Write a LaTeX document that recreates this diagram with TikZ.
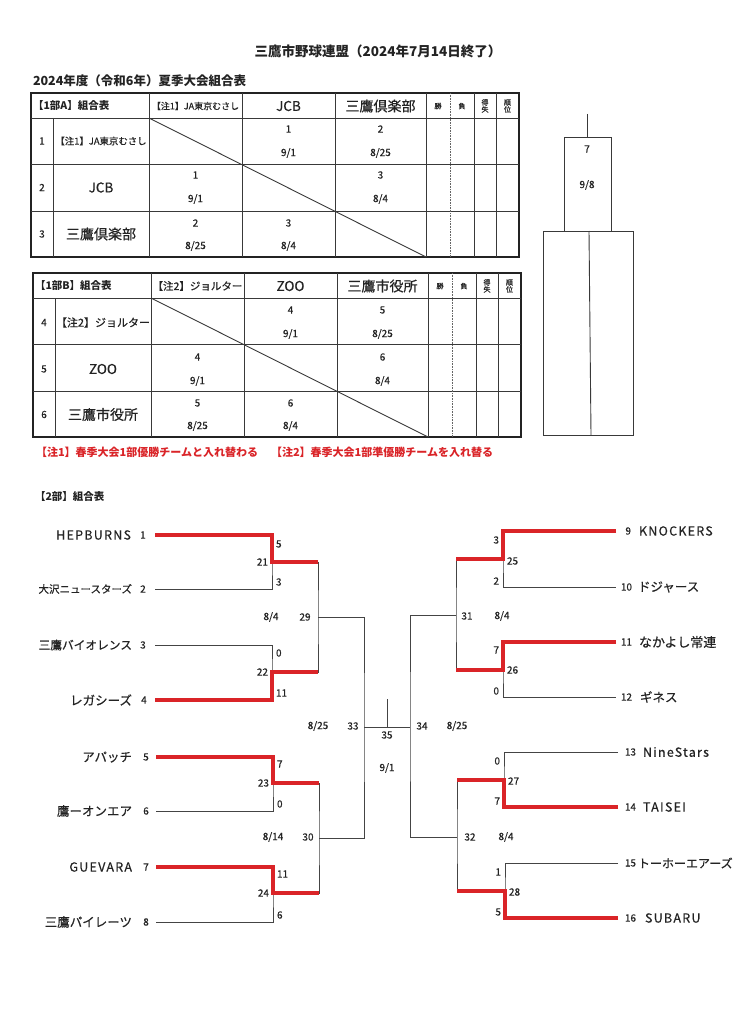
\documentclass[tikz,border=0pt]{standalone}
\usepackage{fontspec}
\setmainfont{Noto Sans CJK JP}[UprightFeatures={FakeBold=0.4}]
\definecolor{winred}{RGB}{218,36,40}
\definecolor{ink}{RGB}{35,35,35}
\begin{document}
\begin{tikzpicture}[x=1pt,y=-1pt,
  every node/.style={inner sep=0pt,outer sep=0pt,text=ink},
  ln/.style={line width=1pt,draw=ink!85},
  win/.style={line width=3.6pt,draw=winred},
  tbo/.style={line width=1.1pt,draw=ink},
  tbi/.style={line width=0.9pt,draw=ink!90},
  dot/.style={line width=0.6pt,draw=ink!70,dash pattern=on 0.8pt off 0.8pt},
  sc/.style={font=\fontsize{10}{12}\selectfont},
  cl/.style={font=\fontsize{10}{12}\selectfont},
  tiny/.style={font=\fontsize{7}{8}\selectfont,align=center},
  lat/.style={font=\fontsize{12.5}{14}\selectfont\addfontfeature{LetterSpace=10}},
  jp/.style={font=\fontsize{12.5}{14}\selectfont},
  note/.style={font=\bfseries\fontsize{11}{13}\selectfont,text=winred,anchor=west}]
\fill[white] (0,0) rectangle (741,1024);
\useasboundingbox (0,0) rectangle (741,1024);

% titles
\node[font=\bfseries\fontsize{13.5}{16}\selectfont] (title) at (378,51) {三鷹市野球連盟（2024年7月14日終了）};
\node[font=\bfseries\fontsize{12.5}{15}\selectfont,anchor=west] (sub) at (33,81) {2024年度（令和6年）夏季大会組合表};

% ---------- table grid ----------
\newcommand\mygrid{%
  \draw[tbo] (31,93) rectangle (519,257);
  \foreach \yy in {118,164,211} \draw[tbi] (31,\yy) -- (519,\yy);
  \draw[tbi] (53,118) -- (53,257);
  \foreach \xx in {149,242,335,426,474,496} \draw[tbi] (\xx,93) -- (\xx,257);
  \draw[dot] (450,93) -- (450,257);
  \draw[tbi] (149,118) -- (426,257);
}
\mygrid
\begin{scope}[shift={(2,180)}]\mygrid\end{scope}

% ---------- table A ----------
\node[font=\bfseries\fontsize{10.5}{12}\selectfont,anchor=west] (ahd) at (33,106) {【1部A】組合表};
\node[font=\fontsize{9}{11}\selectfont] (ah1) at (195.5,106) {【注1】JA東京むさし};
\node[font=\fontsize{13.5}{15}\selectfont] (ah2) at (288.5,106) {JCB};
\node[font=\fontsize{14}{16}\selectfont] (ah3) at (380.5,106) {三鷹倶楽部};
\node[tiny] (ahw) at (438,106) {勝};
\node[tiny] (ahl) at (462,106) {負};
\node[tiny] (ahs) at (485,106) {得\\[-1pt]失};
\node[tiny] (ahr) at (507.5,106) {順\\[-1pt]位};
\node[cl] (an1) at (42,141) {1};
\node[cl] (an2) at (42,187.5) {2};
\node[cl] (an3) at (42,234) {3};
\node[font=\fontsize{9.4}{11}\selectfont] (at1) at (101,141) {【注1】JA東京むさし};
\node[font=\fontsize{13.5}{15}\selectfont] (at2) at (101,187.5) {JCB};
\node[font=\fontsize{14}{16}\selectfont] (at3) at (101,234) {三鷹倶楽部};
\node[cl] (a12g) at (288.5,129) {1};  \node[cl] (a12d) at (288.5,153) {9/1};
\node[cl] (a13g) at (380.5,129) {2};  \node[cl] (a13d) at (380.5,153) {8/25};
\node[cl] (a21g) at (195.5,175) {1};  \node[cl] (a21d) at (195.5,199) {9/1};
\node[cl] (a23g) at (380.5,175) {3};  \node[cl] (a23d) at (380.5,199) {8/4};
\node[cl] (a31g) at (195.5,223) {2};  \node[cl] (a31d) at (195.5,246) {8/25};
\node[cl] (a32g) at (288.5,223) {3};  \node[cl] (a32d) at (288.5,246) {8/4};

% ---------- table B ----------
\node[font=\bfseries\fontsize{10.5}{12}\selectfont,anchor=west] (bhd) at (35,286) {【1部B】組合表};
\node[font=\fontsize{10.5}{12}\selectfont] (bh1) at (197.5,286) {【注2】ジョルター};
\node[font=\fontsize{13.5}{15}\selectfont] (bh2) at (290.5,286) {ZOO};
\node[font=\fontsize{14}{16}\selectfont] (bh3) at (382.5,286) {三鷹市役所};
\node[tiny] (bhw) at (440,286) {勝};
\node[tiny] (bhl) at (464,286) {負};
\node[tiny] (bhs) at (487,286) {得\\[-1pt]失};
\node[tiny] (bhr) at (509.5,286) {順\\[-1pt]位};
\node[cl] (bn4) at (44,322.5) {4};
\node[cl] (bn5) at (44,369) {5};
\node[cl] (bn6) at (44,414.5) {6};
\node[font=\fontsize{11}{13}\selectfont] (bt4) at (103,322.5) {【注2】ジョルター};
\node[font=\fontsize{13.5}{15}\selectfont] (bt5) at (103,369) {ZOO};
\node[font=\fontsize{14}{16}\selectfont] (bt6) at (103,414.5) {三鷹市役所};
\node[cl] (b45g) at (290.5,310) {4};  \node[cl] (b45d) at (290.5,334) {9/1};
\node[cl] (b46g) at (382.5,310) {5};  \node[cl] (b46d) at (382.5,334) {8/25};
\node[cl] (b54g) at (197.5,357) {4};  \node[cl] (b54d) at (197.5,381) {9/1};
\node[cl] (b56g) at (382.5,357) {6};  \node[cl] (b56d) at (382.5,381) {8/4};
\node[cl] (b64g) at (197.5,403) {5};  \node[cl] (b64d) at (197.5,426) {8/25};
\node[cl] (b65g) at (290.5,403) {6};  \node[cl] (b65d) at (290.5,426) {8/4};

\node[note] (n1) at (36,452) {【注1】春季大会1部優勝チームと入れ替わる};
\node[note] (n2) at (271,452) {【注2】春季大会1部準優勝チームを入れ替る};

% ---------- final box right ----------
\draw[tbi] (587,114) -- (587,137);
\draw[tbi] (564,137) rectangle (611,231);
\node[cl] (fg) at (587,149) {7};
\node[cl] (fd) at (587,185) {9/8};
\draw[tbi] (543,231) rectangle (633,435);
\draw[tbi] (589,231) -- (591,435);

% ---------- 2部 ----------
\node[font=\bfseries\fontsize{10.5}{12}\selectfont,anchor=west] (d2) at (35,497) {【2部】組合表};

% left team labels
\node[lat,anchor=east] (L1n) at (131,535) {HEPBURNS};  \node[sc] (L1k) at (143,535) {1};
\node[font=\fontsize{10.5}{12}\selectfont,anchor=east] (L2n) at (132,589) {大沢ニュースターズ}; \node[sc] (L2k) at (143,589) {2};
\node[font=\fontsize{11.7}{13}\selectfont,anchor=east] (L3n) at (132,645) {三鷹バイオレンス}; \node[sc] (L3k) at (143,645) {3};
\node[jp,anchor=east] (L4n) at (132,700) {レガシーズ}; \node[sc] (L4k) at (144,700) {4};
\node[jp,anchor=east] (L5n) at (132,757) {アパッチ}; \node[sc] (L5k) at (146,757) {5};
\node[jp,anchor=east] (L6n) at (132,811) {鷹ーオンエア}; \node[sc] (L6k) at (146,811) {6};
\node[lat,anchor=east] (L7n) at (132,867) {GUEVARA}; \node[sc] (L7k) at (146,867) {7};
\node[jp,anchor=east] (L8n) at (132,922) {三鷹パイレーツ}; \node[sc] (L8k) at (146,922) {8};

% right team labels
\node[sc,anchor=east] (R9k) at (631,531) {9};   \node[lat,anchor=west] (R9n) at (639,531) {KNOCKERS};
\node[sc,anchor=east] (R10k) at (632,587) {10}; \node[jp,anchor=west] (R10n) at (638,587) {ドジャース};
\node[sc,anchor=east] (R11k) at (632,642) {11}; \node[font=\fontsize{13}{15}\selectfont,anchor=west] (R11n) at (639,642) {なかよし常連};
\node[sc,anchor=east] (R12k) at (632,697) {12}; \node[jp,anchor=west] (R12n) at (640,697) {ギネス};
\node[sc,anchor=east] (R13k) at (636,752) {13}; \node[lat,anchor=west] (R13n) at (643,752) {NineStars};
\node[sc,anchor=east] (R14k) at (636,807) {14}; \node[lat,anchor=west] (R14n) at (643,807) {TAISEI};
\node[sc,anchor=east] (R15k) at (636,863) {15}; \node[font=\fontsize{12}{14}\selectfont,anchor=west] (R15n) at (638,863) {トーホーエアーズ};
\node[sc,anchor=east] (R16k) at (636,918) {16}; \node[lat,anchor=west] (R16n) at (645,918) {SUBARU};

% bracket coordinates (left)
\coordinate (a1) at (155,535); \coordinate (a2) at (155,589);
\coordinate (a3) at (155,645); \coordinate (a4) at (155,700);
\coordinate (a5) at (156,757); \coordinate (a6) at (156,811);
\coordinate (a7) at (156,867); \coordinate (a8) at (156,922);
\coordinate (m12) at (272,562); \coordinate (m34) at (272,672);
\coordinate (m56) at (273,783); \coordinate (m78) at (273,893);
\coordinate (s1) at (318,617); \coordinate (s2) at (319,838);
\coordinate (fl) at (364,727);
% right
\coordinate (b9) at (616,531);  \coordinate (b10) at (616,587);
\coordinate (b11) at (616,642); \coordinate (b12) at (616,697);
\coordinate (b13) at (618,752); \coordinate (b14) at (618,807);
\coordinate (b15) at (618,863); \coordinate (b16) at (618,918);
\coordinate (m910) at (503,559); \coordinate (m1112) at (503,670);
\coordinate (m1314) at (504,780); \coordinate (m1516) at (505,891);
\coordinate (s3) at (456,615); \coordinate (s4) at (457,837);
\coordinate (fr) at (410,727);
\coordinate (top) at (387,699); \coordinate (ctr) at (387,727);

% black bracket lines
\draw[ln] (a1) -| (m12) |- (a2);
\draw[ln] (a3) -| (m34) |- (a4);
\draw[ln] (a5) -| (m56) |- (a6);
\draw[ln] (a7) -| (m78) |- (a8);
\draw[ln] (m12) -| (s1) |- (m34);
\draw[ln] (m56) -| (s2) |- (m78);
\draw[ln] (s1) -| (fl) |- (s2);
\draw[ln] (b9) -| (m910) |- (b10);
\draw[ln] (b11) -| (m1112) |- (b12);
\draw[ln] (b13) -| (m1314) |- (b14);
\draw[ln] (b15) -| (m1516) |- (b16);
\draw[ln] (m910) -| (s3) |- (m1112);
\draw[ln] (m1314) -| (s4) |- (m1516);
\draw[ln] (s3) -| (fr) |- (s4);
\draw[ln] (fl) -- (fr);
\draw[ln] (top) -- (ctr);

% winners
\draw[win] (a1) -| (m12) -- (s1 |- m12);
\draw[win] (a4) -| (m34) -- (s1 |- m34);
\draw[win] (a5) -| (m56) -- (s2 |- m56);
\draw[win] (a7) -| (m78) -- (s2 |- m78);
\draw[win] (b9) -| (m910) -- (s3 |- m910);
\draw[win] (b11) -| (m1112) -- (s3 |- m1112);
\draw[win] (b14) -| (m1314) -- (s4 |- m1314);
\draw[win] (b16) -| (m1516) -- (s4 |- m1516);

% left scores
\node[sc,anchor=west] (g1) at (276,544) {5};
\node[sc,anchor=east] (g21) at (268,562) {21};
\node[sc,anchor=west] (g2) at (276,582) {3};
\node[sc] (d29) at (271,617) {8/4};
\node[sc] (g29) at (305,617) {29};
\node[sc,anchor=west] (g3) at (276,653) {0};
\node[sc,anchor=east] (g22) at (268,672) {22};
\node[sc,anchor=west] (g4) at (276,693) {11};
\node[sc,anchor=west] (g5) at (277,764) {7};
\node[sc,anchor=east] (g23) at (269,783) {23};
\node[sc,anchor=west] (g6) at (277,804) {0};
\node[sc] (d30) at (273,837) {8/14};
\node[sc] (g30) at (308,837) {30};
\node[sc,anchor=west] (g7) at (277,874) {11};
\node[sc,anchor=east] (g24) at (269,893) {24};
\node[sc,anchor=west] (g8) at (277,915) {6};
\node[sc] (d33) at (318,726) {8/25};
\node[sc] (g33) at (353,726) {33};
\node[sc] (g35) at (387,735) {35};
\node[sc] (d35) at (387,768) {9/1};
\node[sc] (g34) at (422,726) {34};
\node[sc] (d34) at (457,726) {8/25};

% right scores
\node[sc,anchor=east] (g9) at (499,540) {3};
\node[sc,anchor=west] (g25) at (507,561) {25};
\node[sc,anchor=east] (g10) at (499,581) {2};
\node[sc] (g31) at (467,616) {31};
\node[sc] (d31) at (502,616) {8/4};
\node[sc,anchor=east] (g11) at (499,650) {7};
\node[sc,anchor=west] (g26) at (507,670) {26};
\node[sc,anchor=east] (g12) at (499,691) {0};
\node[sc,anchor=east] (g13) at (500,761) {0};
\node[sc,anchor=west] (g27) at (508,781) {27};
\node[sc,anchor=east] (g14) at (500,801) {7};
\node[sc] (g32) at (470,837) {32};
\node[sc] (d32) at (506,837) {8/4};
\node[sc,anchor=east] (g15) at (501,872) {1};
\node[sc,anchor=west] (g28) at (509,892) {28};
\node[sc,anchor=east] (g16) at (501,912) {5};
\end{tikzpicture}
\end{document}
